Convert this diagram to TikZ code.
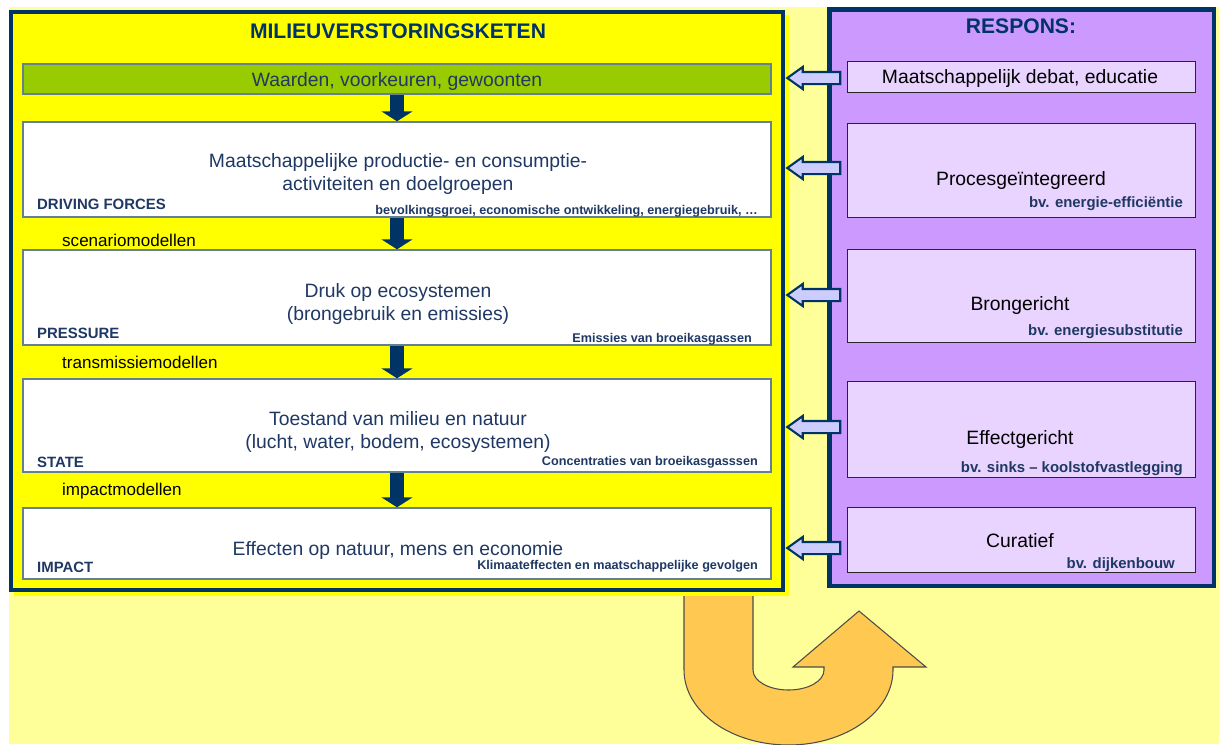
\documentclass[tikz,border=0pt]{standalone}
\usepackage{fontspec}
\setmainfont{Liberation Sans}
\usetikzlibrary{arrows.meta,positioning,calc,fit,shapes.arrows}

\definecolor{navy}{RGB}{0,51,102}
\definecolor{tekstblauw}{RGB}{31,56,100}
\definecolor{geel}{RGB}{255,255,0}
\definecolor{lichtgeel}{RGB}{255,255,153}
\definecolor{paars}{RGB}{204,153,255}
\definecolor{lila}{RGB}{233,212,255}
\definecolor{groen}{RGB}{153,204,0}
\definecolor{oranje}{RGB}{255,200,80}
\definecolor{pijlblauw}{RGB}{204,204,255}
\definecolor{randgrijs}{RGB}{100,128,145}

\begin{document}
\begin{tikzpicture}[x=0.02cm, y=-0.02cm,
  every node/.style={font=\fontsize{11}{13}\selectfont, text=tekstblauw},
  panel/.style={draw=navy, line width=2.8pt, inner sep=0pt},
  vak/.style={draw=randgrijs, line width=0.8pt, fill=white, inner sep=0pt},
  resvak/.style={draw=black!85, line width=0.45pt, fill=lila, inner sep=0pt},
  titel/.style={font=\bfseries\fontsize{12}{14}\selectfont, text=navy},
  etiket/.style={font=\bfseries\fontsize{8.5}{10}\selectfont, anchor=west},
  klein/.style={font=\bfseries\fontsize{7.2}{8}\selectfont, anchor=east},
  model/.style={font=\fontsize{9.7}{11}\selectfont, text=black, anchor=west},
  bv/.style={font=\bfseries\fontsize{8.5}{10}\selectfont, anchor=east},
  omlaag/.style={draw=navy, line width=8.5pt, -{Triangle[width=17.6pt,length=5.7pt]}},
  terugpijl/.style={single arrow, shape border rotate=180, draw=navy, line width=1.2pt,
    fill=pijlblauw, inner sep=0.1cm, single arrow head extend=0.1cm,
    single arrow tip angle=71, minimum height=1.06cm}
]
  % achtergrond
  \useasboundingbox (0,0) rectangle (1219,744);
  \fill[white] (0,0) rectangle (1219,744);
  \fill[lichtgeel] (9,7) rectangle (1219,744);

  % grote pijl (respons terug)
  \draw[fill=oranje, draw=black!70, line width=0.6pt]
    (684,590) -- (684,670)
    arc[start angle=180, end angle=0, x radius=104.5, y radius=75]
    -- (893,667) -- (926,667) -- (859,611) -- (793,667) -- (824,667) -- (824,670)
    arc[start angle=0, end angle=180, x radius=35.5, y radius=20]
    -- (753,590) -- cycle;

  % panelen
  \fill[geel] (14,15) rectangle (789,596);
  \node[panel, fill=geel, fit={(11,12) (783,590)}] (links) {};
  \node[panel, fill=paars, fit={(829.5,9.5) (1214,586)}] (rechts) {};

  % milieuverstoringsketen
  \node[titel] (titelL) at (398,31) {MILIEUVERSTORINGSKETEN};
  \node[draw=randgrijs, line width=0.8pt, fill=groen, inner sep=0pt, fit={(23,64) (771,94)}] (wb) {};
  \node at ($(wb.center)+(0,3)$) (wbtekst) {Waarden, voorkeuren, gewoonten};

  \node[vak, fit={(23,122) (771,217)}] (df) {};
  \node[vak, fit={(23,250) (771,345)}] (pr) {};
  \node[vak, fit={(23,379) (771,472)}] (st) {};
  \node[vak, fit={(23,508) (771,579)}] (im) {};

  \node[align=center] (dftekst) at (398,174) {Maatschappelijke productie- en consumptie-\\activiteiten en doelgroepen};
  \node[align=center] (prtekst) at (398,304) {Druk op ecosystemen\\(brongebruik en emissies)};
  \node[align=center] (sttekst) at (398,432) {Toestand van milieu en natuur\\(lucht, water, bodem, ecosystemen)};
  \node (imtekst) at (398,550) {Effecten op natuur, mens en economie};

  \node[etiket] (dflabel) at (31,204) {DRIVING FORCES};
  \node[etiket] (prlabel) at (31,333) {PRESSURE};
  \node[etiket] (stlabel) at (31,462) {STATE};
  \node[etiket] (imlabel) at (31,567) {IMPACT};

  \node[klein] (dfklein) at (764,211) {bevolkingsgroei, economische ontwikkeling, energiegebruik, \dots};
  \node[klein] (prklein) at (758,339) {Emissies van broeikasgassen};
  \node[klein] (stklein) at (764,462) {Concentraties van broeikasgasssen};
  \node[klein] (imklein) at (764,566) {Klimaateffecten en maatschappelijke gevolgen};

  \node[model] (m1) at (56,240) {scenariomodellen};
  \node[model] (m2) at (56,362) {transmissiemodellen};
  \node[model] (m3) at (56,491) {impactmodellen};

  \draw[omlaag] (wb.south) -- (df.north);
  \draw[omlaag] (df.south) -- (pr.north);
  \draw[omlaag] (pr.south) -- (st.north);
  \draw[omlaag] (st.south) -- (im.north);

  % respons
  \node[titel] (titelR) at (1021,26) {RESPONS:};
  \node[resvak, fit={(847,61) (1195,92)}] (rA) {};
  \node[resvak, fit={(847,123) (1195,217)}] (rB) {};
  \node[resvak, fit={(847,249) (1195,342)}] (rC) {};
  \node[resvak, fit={(847,381) (1195,477)}] (rD) {};
  \node[resvak, fit={(847,507) (1195,572)}] (rE) {};

  \node[text=black] (rAtekst) at (1020,79) {Maatschappelijk debat, educatie};
  \node[text=black] (rBtekst) at (1021,180) {Procesgeïntegreerd};
  \node[text=black] (rCtekst) at (1020,305) {Brongericht};
  \node[text=black] (rDtekst) at (1020,439) {Effectgericht};
  \node[text=black] (rEtekst) at (1020,541) {Curatief};

  \node[bv] (rBbv) at (1189,204) {bv. energie-efficiëntie};
  \node[bv] (rCbv) at (1189,332) {bv. energiesubstitutie};
  \node[bv] (rDbv) at (1189,469) {bv. sinks – koolstofvastlegging};
  \node[bv] (rEbv) at (1181,565) {bv. dijkenbouw};

  % pijlen naar de keten
  \node[terugpijl] (pA) at (818,78) {};
  \node[terugpijl] (pB) at (818,168) {};
  \node[terugpijl] (pC) at (818,295) {};
  \node[terugpijl] (pD) at (818,427) {};
  \node[terugpijl] (pE) at (818,548) {};
\end{tikzpicture}
\end{document}
